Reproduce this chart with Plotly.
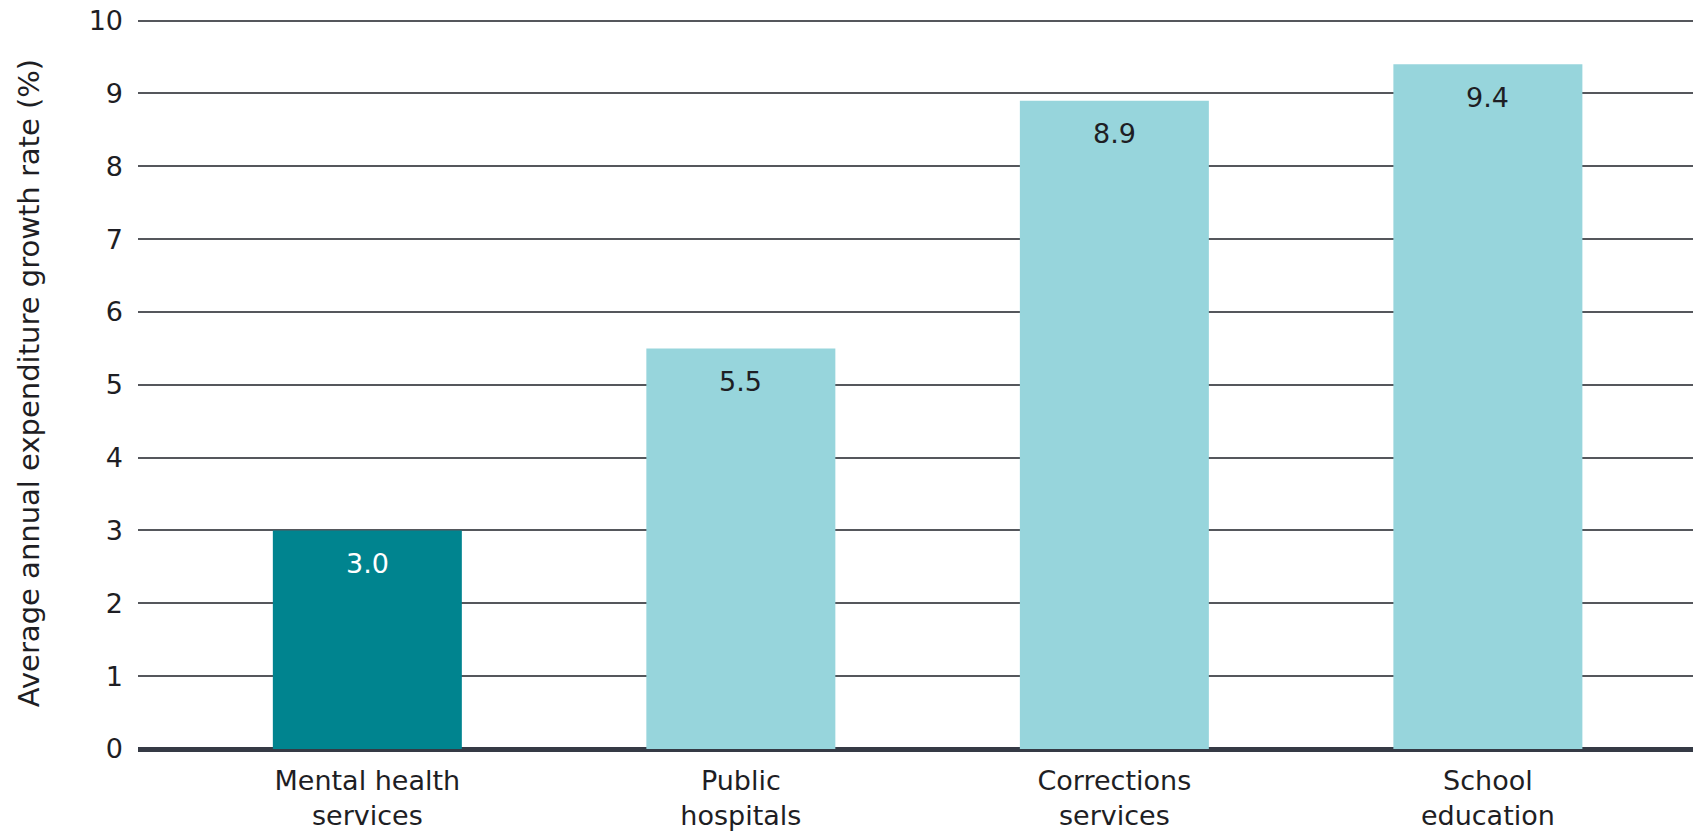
import plotly.graph_objects as go

categories = ["Mental health<br>services", "Public<br>hospitals", "Corrections<br>services", "School<br>education"]
values = [3.0, 5.5, 8.9, 9.4]
bar_colors = ["#00848F", "#97D5DC", "#97D5DC", "#97D5DC"]
label_colors = ["#FFFFFF", "#1E1E24", "#1E1E24", "#1E1E24"]
y_ticks = [0, 1, 2, 3, 4, 5, 6, 7, 8, 9, 10]

FONT = "DejaVu Sans"
FS = 27

fig = go.Figure()
fig.add_trace(go.Bar(
    x=list(range(len(categories))),
    y=values,
    marker=dict(color=bar_colors, line=dict(width=0)),
    width=0.506,
    hoverinfo="skip",
))

for i, (v, c) in enumerate(zip(values, label_colors)):
    fig.add_annotation(
        x=i, y=v, text=f"{v:.1f}", showarrow=False,
        yanchor="middle", yshift=-33,
        font=dict(family=FONT, size=FS, color=c),
    )

fig.update_layout(
    width=1701, height=833,
    margin=dict(l=130, r=0, t=9, b=92, autoexpand=False),
    paper_bgcolor="white", plot_bgcolor="white",
    showlegend=False,
    font=dict(family=FONT, size=FS, color="#1E1E24"),
    xaxis=dict(
        range=[-0.614, 3.592],
        tickmode="array",
        tickvals=list(range(len(categories))),
        ticktext=categories,
        showgrid=False, zeroline=False, showline=False,
        ticks="", ticklabelstandoff=13,
        ticklabeloverflow="allow",
        tickfont=dict(family=FONT, size=FS, color="#1E1E24"),
        fixedrange=True,
    ),
    yaxis=dict(
        range=[0, 10.05],
        tickmode="array",
        tickvals=y_ticks,
        ticktext=[str(t) for t in y_ticks],
        showgrid=True, gridcolor="#55575C", gridwidth=2,
        zeroline=True, zerolinecolor="#353A45", zerolinewidth=5,
        showline=False, ticks="",
        ticklabelstandoff=14,
        ticklabeloverflow="allow",
        tickfont=dict(family=FONT, size=FS, color="#1E1E24"),
        title=dict(text="Average annual expenditure growth rate (%)",
                   font=dict(family=FONT, size=29, color="#1E1E24"),
                   standoff=40),
        fixedrange=True,
    ),
)

fig.write_html("out.html")
